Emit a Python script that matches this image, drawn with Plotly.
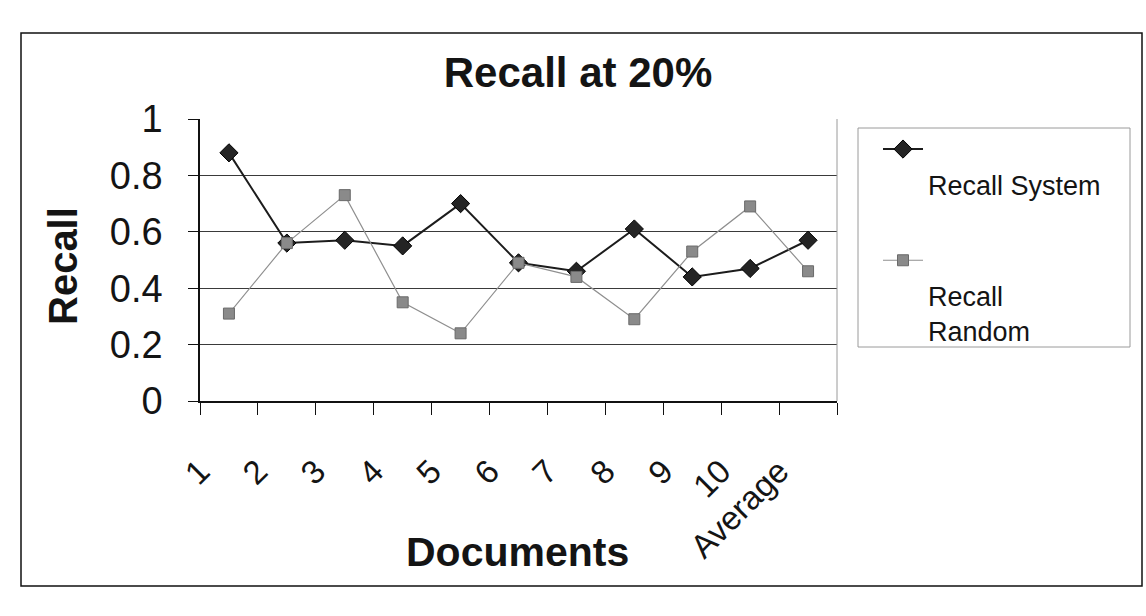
import plotly.graph_objects as go

# Chart data
documents = ["1", "2", "3", "4", "5", "6", "7", "8", "9", "10", "Average"]
recall_system = [0.88, 0.56, 0.57, 0.55, 0.70, 0.49, 0.46, 0.61, 0.44, 0.47, 0.57]
recall_random = [0.31, 0.56, 0.73, 0.35, 0.24, 0.49, 0.44, 0.29, 0.53, 0.69, 0.46]
y_tick_values = [0, 0.2, 0.4, 0.6, 0.8, 1]
y_tick_labels = ["0", "0.2", "0.4", "0.6", "0.8", "1"]

W, H = 1146, 616
L, R, T, B = 200, 309, 119, 215
PW, PH = W - L - R, H - T - B


def px_x(x):
    return (x - L) / PW


def px_y(y):
    return (H - B - y) / PH


# category positions; labels and ticks sit on the category boundaries
xpos = list(range(len(documents)))
bounds = [i - 0.5 for i in range(len(documents) + 1)]
bound_labels = documents + [""]

fig = go.Figure()
fig.add_trace(go.Scatter(
    x=xpos, y=recall_system, name="&nbsp;<br>Recall System",
    mode="lines+markers", legendgroup="system",
    line=dict(color="#1c1c1c", width=2),
    marker=dict(symbol="diamond", size=14, color="#242424",
                line=dict(color="#000000", width=1)),
))
fig.add_trace(go.Scatter(
    x=xpos, y=recall_random, name="&nbsp;<br>Recall<br>Random",
    mode="lines+markers", legendgroup="random",
    line=dict(color="#8f8f8f", width=1.2),
    marker=dict(symbol="square", size=11, color="#8a8a8a",
                line=dict(color="#6a6a6a", width=1)),
))

font_family = "Liberation Sans, Arial, sans-serif"

fig.update_layout(
    width=W, height=H, autosize=False,
    margin=dict(l=L, r=R, t=T, b=B),
    paper_bgcolor="white", plot_bgcolor="white",
    font=dict(family=font_family, color="#141414"),
    title=dict(text="<b>Recall at 20%</b>", x=578 / W, xanchor="center",
               y=1 - 72 / H, yanchor="middle", font=dict(size=42)),
    xaxis=dict(
        range=[-0.5, len(documents) - 0.5],
        tickmode="array", tickvals=bounds, ticktext=bound_labels,
        tickangle=-45, tickfont=dict(size=33),
        showgrid=False, zeroline=False,
        showline=True, linecolor="#111111", linewidth=1.5,
        ticks="outside", ticklen=12, tickcolor="#111111", tickwidth=1,
        ticklabelstandoff=24,
    ),
    yaxis=dict(
        range=[0, 1], tickmode="array", tickvals=y_tick_values,
        ticktext=y_tick_labels, tickfont=dict(size=38),
        showgrid=True, gridcolor="#3a3a3a", gridwidth=1, zeroline=False,
        showline=True, linecolor="#111111", linewidth=1.5,
        ticks="outside", ticklen=10, tickcolor="#111111",
        ticklabelstandoff=18,
    ),
    annotations=[
        dict(text="<b>Recall</b>", xref="paper", yref="paper",
             x=px_x(63), y=px_y(266), xanchor="center", yanchor="middle",
             textangle=-90, showarrow=False, font=dict(size=40)),
        dict(text="<b>Documents</b>", xref="paper", yref="paper",
             x=px_x(517), y=px_y(552), xanchor="center", yanchor="middle",
             showarrow=False, font=dict(size=41)),
    ],
    showlegend=True,
    legend=dict(
        x=px_x(878), y=px_y(125), xanchor="left", yanchor="top",
        valign="top", traceorder="grouped", tracegroupgap=38,
        bgcolor="rgba(0,0,0,0)", borderwidth=0,
        font=dict(size=27, color="#141414"), itemwidth=40,
    ),
    shapes=[
        # outer chart border
        dict(type="rect", xref="paper", yref="paper",
             x0=px_x(21), x1=px_x(1142), y0=px_y(586), y1=px_y(33),
             line=dict(color="#111111", width=1.5)),
        # plot area right edge
        dict(type="line", xref="paper", yref="paper",
             x0=1, x1=1, y0=0, y1=1,
             line=dict(color="#9a9a9a", width=1)),
        # legend frame
        dict(type="rect", xref="paper", yref="paper",
             x0=px_x(858), x1=px_x(1130), y0=px_y(347), y1=px_y(128),
             line=dict(color="#9a9a9a", width=1)),
    ],
)

fig.write_html("out.html")
